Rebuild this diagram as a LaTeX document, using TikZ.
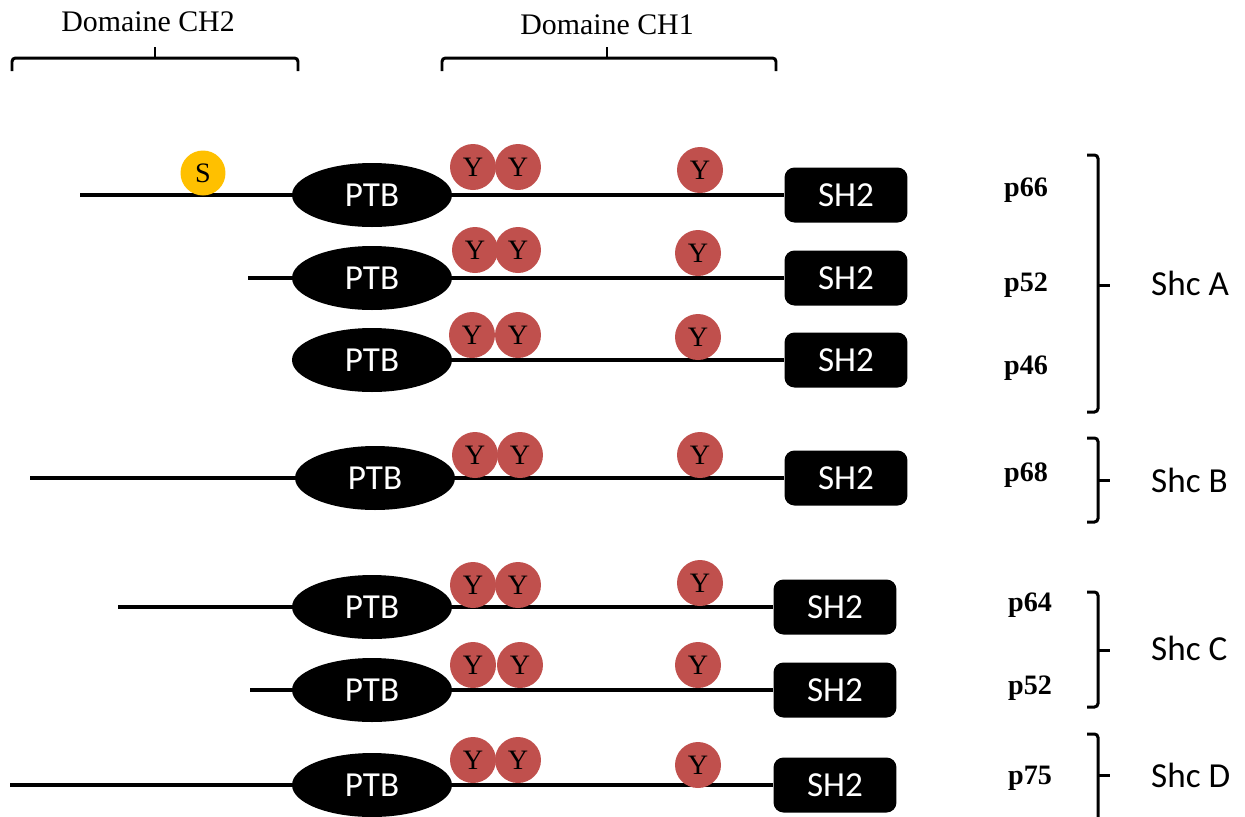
\documentclass[tikz,border=0pt]{standalone}
\usepackage{fontspec}
\setmainfont{Liberation Serif}
\newfontfamily\calibri{Carlito}
\usetikzlibrary{shapes.geometric,backgrounds}
\definecolor{yred}{RGB}{192,80,77}
\definecolor{sgold}{RGB}{255,192,0}
\begin{document}
\begin{tikzpicture}[x=0.02cm,y=-0.02cm,
	ptb/.style={ellipse,fill=black,text=white,inner sep=0pt,minimum width=3.2cm,minimum height=1.28cm,font=\calibri\fontsize{20}{20}\selectfont},
	shbox/.style={rectangle,rounded corners=0.2cm,fill=black,text=white,inner sep=0pt,minimum width=2.46cm,minimum height=1.1cm,font=\calibri\fontsize{20}{20}\selectfont},
	tyr/.style={circle,fill=yred,inner sep=0pt,minimum size=0.92cm,font=\fontsize{16}{16}\selectfont},
	ser/.style={circle,fill=sgold,inner sep=0pt,minimum size=0.9cm,font=\fontsize{16}{16}\selectfont},
	iso/.style={font=\bfseries\fontsize{16}{16}\selectfont},
	shc/.style={font=\calibri\fontsize{20}{20}\selectfont,anchor=west},
	dom/.style={font=\fontsize{17}{17}\selectfont},
	bb/.style={line width=1.9pt},
	brace/.style={line width=1.7pt,rounded corners=2pt}]
	\useasboundingbox (0,0) rectangle (1245,816);
	% domaines
	\node[dom] (ch2) at (148,22) {Domaine CH2};
	\node[dom] (ch1) at (607,25) {Domaine CH1};
	\draw[brace] (12,71) -- (12,58) -- (298,58) -- (298,71);
	\draw[brace] (155,58) -- (155,47);
	\draw[brace] (442,71) -- (442,58) -- (776,58) -- (776,71);
	\draw[brace] (607,58) -- (607,47);
	% p66
	\coordinate (s66) at (80,195);
	\node[ser] (ser66) at (203,173) {S};
	\node[ptb] (ptb66) at (372,195) {PTB};
	\node[tyr] (ya66) at (473,167) {Y};
	\node[tyr] (yb66) at (518,167) {Y};
	\node[tyr] (yc66) at (700,170) {Y};
	\node[shbox] (sh66) at (846,195) {SH2};
	\node[iso] (l66) at (1026,190) {p66};
	% p52 (Shc A)
	\coordinate (s52a) at (248,278);
	\node[ptb] (ptb52a) at (372,278) {PTB};
	\node[tyr] (ya52a) at (475,250) {Y};
	\node[tyr] (yb52a) at (518,250) {Y};
	\node[tyr] (yc52a) at (698,253) {Y};
	\node[shbox] (sh52a) at (846,278) {SH2};
	\node[iso] (l52a) at (1026,285) {p52};
	% p46
	\node[ptb] (ptb46) at (372,360) {PTB};
	\node[tyr] (ya46) at (472,335) {Y};
	\node[tyr] (yb46) at (518,335) {Y};
	\node[tyr] (yc46) at (698,337) {Y};
	\node[shbox] (sh46) at (846,360) {SH2};
	\node[iso] (l46) at (1026,368) {p46};
	% p68
	\coordinate (s68) at (30,478);
	\node[ptb] (ptb68) at (375,478) {PTB};
	\node[tyr] (ya68) at (475,455) {Y};
	\node[tyr] (yb68) at (520,455) {Y};
	\node[tyr] (yc68) at (700,455) {Y};
	\node[shbox] (sh68) at (846,478) {SH2};
	\node[iso] (l68) at (1026,475) {p68};
	% p64
	\coordinate (s64) at (118,607);
	\node[ptb] (ptb64) at (372,607) {PTB};
	\node[tyr] (ya64) at (473,585) {Y};
	\node[tyr] (yb64) at (518,585) {Y};
	\node[tyr] (yc64) at (700,583) {Y};
	\node[shbox] (sh64) at (835,607) {SH2};
	\node[iso] (l64) at (1030,605) {p64};
	% p52 (Shc C)
	\coordinate (s52c) at (250,690);
	\node[ptb] (ptb52c) at (372,690) {PTB};
	\node[tyr] (ya52c) at (473,665) {Y};
	\node[tyr] (yb52c) at (520,665) {Y};
	\node[tyr] (yc52c) at (698,665) {Y};
	\node[shbox] (sh52c) at (835,690) {SH2};
	\node[iso] (l52c) at (1030,688) {p52};
	% p75
	\coordinate (s75) at (10,785);
	\node[ptb] (ptb75) at (372,785) {PTB};
	\node[tyr] (ya75) at (473,760) {Y};
	\node[tyr] (yb75) at (518,760) {Y};
	\node[tyr] (yc75) at (698,765) {Y};
	\node[shbox] (sh75) at (835,785) {SH2};
	\node[iso] (l75) at (1030,778) {p75};
	% backbones
	\begin{scope}[on background layer]
	\draw[bb] (s66) -- (ptb66.west);
	\draw[bb] (ptb66.east) -- (sh66.west);
	\draw[bb] (s52a) -- (ptb52a.west);
	\draw[bb] (ptb52a.east) -- (sh52a.west);
	\draw[bb] (ptb46.east) -- (sh46.west);
	\draw[bb] (s68) -- (ptb68.west);
	\draw[bb] (ptb68.east) -- (sh68.west);
	\draw[bb] (s64) -- (ptb64.west);
	\draw[bb] (ptb64.east) -- (sh64.west);
	\draw[bb] (s52c) -- (ptb52c.west);
	\draw[bb] (ptb52c.east) -- (sh52c.west);
	\draw[bb] (s75) -- (ptb75.west);
	\draw[bb] (ptb75.east) -- (sh75.west);
	\end{scope}
	% familles
	\draw[brace] (1087,155) -- (1098,155) -- (1098,412) -- (1087,412);
	\draw[brace] (1098,285) -- (1110,285);
	\node[shc] (shca) at (1145,283) {Shc A};
	\draw[brace] (1087,438) -- (1098,438) -- (1098,522) -- (1087,522);
	\draw[brace] (1098,480) -- (1110,480);
	\node[shc] (shcb) at (1145,480) {Shc B};
	\draw[brace] (1087,592) -- (1098,592) -- (1098,707) -- (1087,707);
	\draw[brace] (1098,650) -- (1110,650);
	\node[shc] (shcc) at (1145,648) {Shc C};
	\draw[brace] (1087,734) -- (1098,734) -- (1098,830);
	\draw[brace] (1098,775) -- (1110,775);
	\node[shc] (shcd) at (1145,775) {Shc D};
\end{tikzpicture}
\end{document}
